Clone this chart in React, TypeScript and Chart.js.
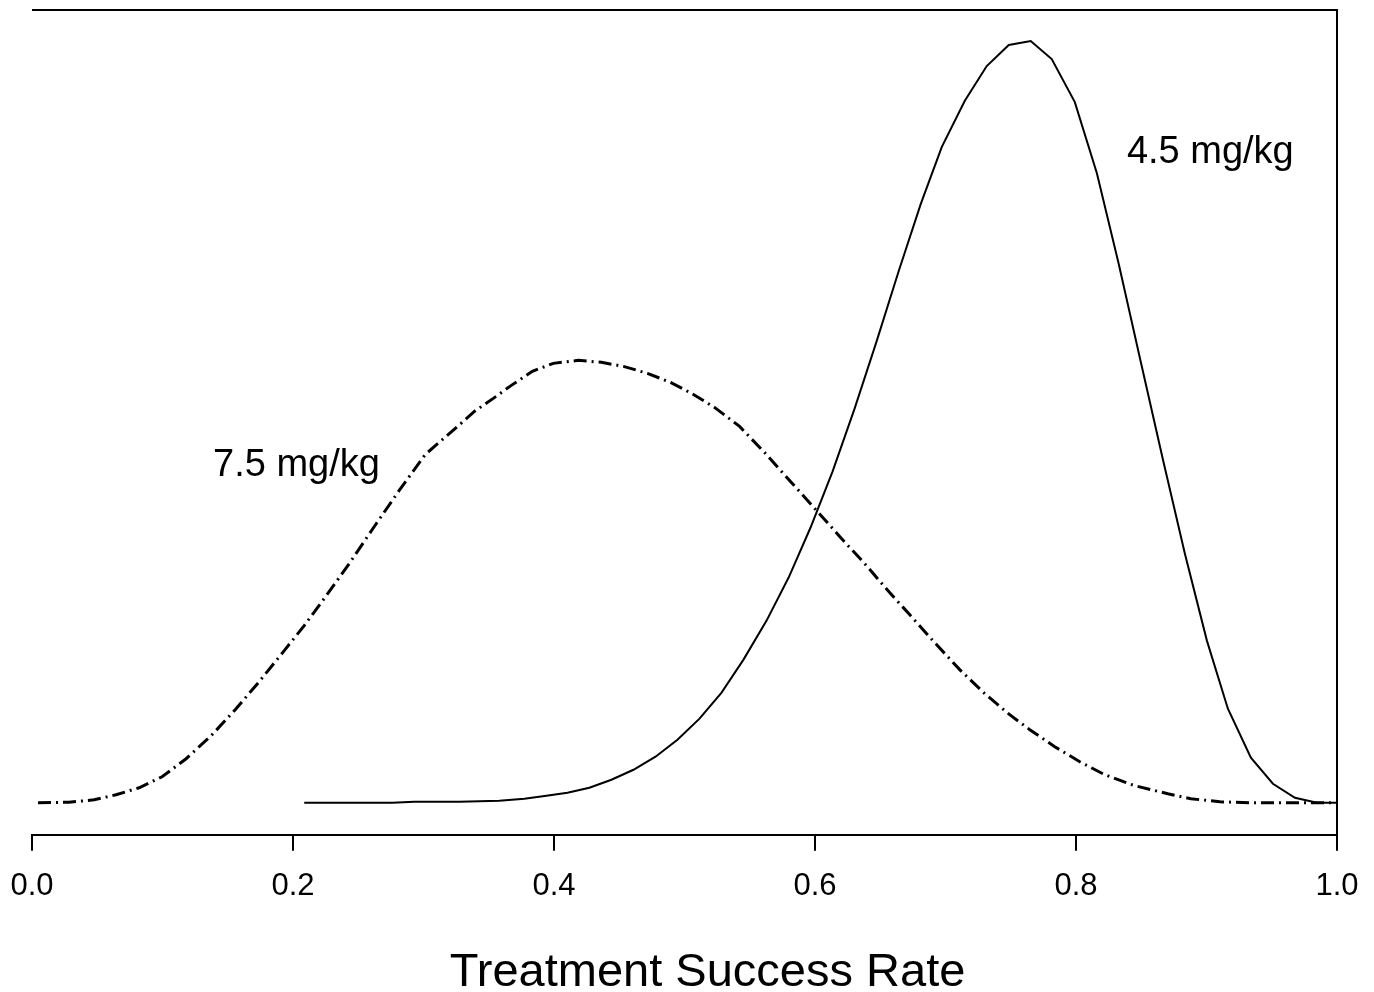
import React, { useEffect, useRef } from "react";
import { Chart, registerables } from "chart.js";

Chart.register(...registerables);

// 4.5 mg/kg posterior density (solid)
const dose45X = [0.2086, 0.2761, 0.2929, 0.3275, 0.3581, 0.3773, 0.3942, 0.4103, 0.4271, 0.444, 0.4609, 0.4778, 0.4946, 0.5115, 0.5284, 0.5452, 0.5629, 0.5798, 0.5966, 0.6135, 0.6304, 0.6472, 0.6641, 0.681, 0.6971, 0.7147, 0.7316, 0.7485, 0.7653, 0.7814, 0.7991, 0.816, 0.8328, 0.8497, 0.8666, 0.8834, 0.9003, 0.9164, 0.934, 0.9509, 0.9678, 0.9847, 1.0];
const dose45Y = [0, 0, 0.01, 0.01, 0.02, 0.04, 0.07, 0.1, 0.15, 0.23, 0.33, 0.46, 0.63, 0.84, 1.1, 1.43, 1.82, 2.25, 2.75, 3.31, 3.94, 4.61, 5.31, 5.98, 6.55, 7.01, 7.36, 7.57, 7.61, 7.43, 7.0, 6.29, 5.38, 4.4, 3.43, 2.49, 1.62, 0.94, 0.45, 0.19, 0.05, 0.0, 0.0];

// 7.5 mg/kg posterior density (dash-dot)
const dose75X = [0.0046, 0.0284, 0.0476, 0.0644, 0.0821, 0.0997, 0.1181, 0.1373, 0.1557, 0.1741, 0.1933, 0.2086, 0.2239, 0.2431, 0.2623, 0.2814, 0.3014, 0.3244, 0.339, 0.3535, 0.3673, 0.3834, 0.3995, 0.4187, 0.4363, 0.4532, 0.4716, 0.4893, 0.5054, 0.523, 0.5422, 0.5613, 0.5805, 0.6012, 0.6189, 0.638, 0.6572, 0.6725, 0.6917, 0.7109, 0.7301, 0.7492, 0.7646, 0.7837, 0.8029, 0.8221, 0.8451, 0.8704, 0.888, 0.9103, 0.9333, 1.0];
const dose75Y = [0, 0.005, 0.03, 0.08, 0.15, 0.26, 0.44, 0.67, 0.93, 1.21, 1.52, 1.77, 2.04, 2.39, 2.76, 3.12, 3.48, 3.74, 3.91, 4.04, 4.17, 4.31, 4.39, 4.42, 4.4, 4.36, 4.29, 4.2, 4.09, 3.95, 3.76, 3.5, 3.22, 2.92, 2.66, 2.39, 2.1, 1.88, 1.6, 1.33, 1.09, 0.88, 0.73, 0.56, 0.41, 0.28, 0.17, 0.09, 0.04, 0.01, 0, 0];

const xTickValues = [0, 0.2, 0.4, 0.6, 0.8, 1.0];
const xTickLabels = ["0.0", "0.2", "0.4", "0.6", "0.8", "1.0"];

const seriesLabels = ["4.5 mg/kg", "7.5 mg/kg"];
const axisTitle = "Treatment Success Rate";

const FONT = "'Liberation Sans', Arial, Helvetica, sans-serif";

const framePlugin = {
  id: "frame",
  afterDraw(chart: any) {
    const { ctx, chartArea } = chart;
    const xs = chart.scales.x;
    const ys = chart.scales.y;
    ctx.save();
    ctx.strokeStyle = "#000";
    ctx.lineWidth = 2;
    ctx.beginPath();
    ctx.moveTo(chartArea.left, chartArea.top);
    ctx.lineTo(chartArea.right, chartArea.top);
    ctx.lineTo(chartArea.right, chartArea.bottom);
    ctx.stroke();
    ctx.fillStyle = "#000";
    ctx.font = `38px ${FONT}`;
    ctx.textAlign = "left";
    ctx.textBaseline = "middle";
    ctx.fillText(seriesLabels[0], xs.getPixelForValue(0.839), ys.getPixelForValue(6.5));
    ctx.fillText(seriesLabels[1], xs.getPixelForValue(0.1387), ys.getPixelForValue(3.37));
    // axis title
    ctx.font = `47px ${FONT}`;
    ctx.textAlign = "center";
    ctx.textBaseline = "alphabetic";
    ctx.fillText(axisTitle, xs.getPixelForValue(0.5177), chartArea.bottom + 151);
    ctx.restore();
  },
};

export default function App() {
  const ref = useRef<HTMLCanvasElement | null>(null);
  useEffect(() => {
    if (!ref.current) return;
    const chart = new Chart(ref.current, {
      type: "line",
      data: {
        datasets: [
          {
            label: seriesLabels[0],
            data: dose45X.map((x, i) => ({ x, y: dose45Y[i] })),
            borderColor: "#000",
            borderWidth: 2,
            pointRadius: 0,
            tension: 0,
            fill: false,
          },
          {
            label: seriesLabels[1],
            data: dose75X.map((x, i) => ({ x, y: dose75Y[i] })),
            borderColor: "#000",
            borderWidth: 3,
            borderDash: [13, 5, 2, 5],
            pointRadius: 0,
            tension: 0,
            fill: false,
          },
        ],
      },
      options: {
        animation: false,
        responsive: false,
        layout: { padding: { left: 32, right: 37, top: 10, bottom: 70 } },
        plugins: { legend: { display: false }, tooltip: { enabled: false } },
        scales: {
          x: {
            type: "linear",
            min: 0,
            max: 1,
            position: "bottom",
            afterBuildTicks: (s: any) => {
              s.ticks = xTickValues.map((v) => ({ value: v }));
            },
            afterFit: (s: any) => {
              s.paddingLeft = 0;
              s.paddingRight = 0;
            },
            grid: {
              display: true,
              drawOnChartArea: false,
              drawTicks: true,
              tickLength: 16,
              color: "#000",
              lineWidth: 2,
            },
            border: { display: true, color: "#000", width: 2 },
            ticks: {
              color: "#000",
              font: { family: FONT, size: 31 },
              padding: 17,
              maxRotation: 0,
              autoSkip: false,
              callback: (v: any) => {
                const i = xTickValues.findIndex((t) => Math.abs(t - Number(v)) < 1e-9);
                return i >= 0 ? xTickLabels[i] : "";
              },
            },
            title: { display: false },
          },
          y: {
            type: "linear",
            display: false,
            min: -0.32,
            max: 7.92,
          },
        },
      },
      plugins: [framePlugin],
    });
    return () => chart.destroy();
  }, []);
  return (
    <div style={{ position: "absolute", left: 0, top: 0, width: 1374, height: 992, background: "#fff" }}>
      <canvas ref={ref} width={1374} height={992} style={{ display: "block" }} />
    </div>
  );
}
